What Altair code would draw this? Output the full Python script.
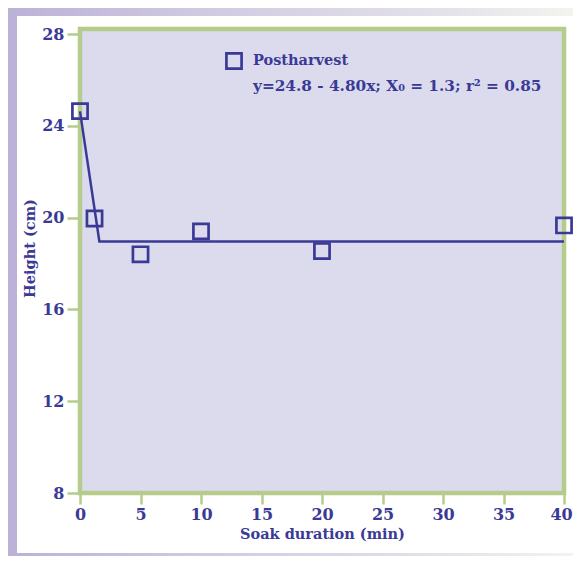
import altair as alt
import pandas as pd

# ---- data ----
soak_min = [0, 1.2, 5, 10, 20, 40]
height_cm = [24.64, 19.96, 18.40, 19.40, 18.54, 19.66]
series = ["Postharvest"] * 6

fit_x = [0, 1.6, 40]
fit_y = [24.63, 18.96, 18.96]

x_ticks = [0, 5, 10, 15, 20, 25, 30, 35, 40]
y_ticks = [8, 12, 16, 20, 24, 28]
equation = ["y=24.8 - 4.80x; X\u2080 = 1.3; r\u00b2 = 0.85"]

NAVY = "#3a3a96"
GREEN = "#b5cc8b"
LAVENDER = "#dcdbee"
FONT = "DejaVu Serif"

pts = pd.DataFrame({"soak": soak_min, "height": height_cm, "series": series})
fit = pd.DataFrame({"soak": fit_x, "height": fit_y})
eq = pd.DataFrame({"label": equation})
one = alt.Data(values=[{"k": 1}])

xenc = alt.X(
    "soak:Q",
    scale=alt.Scale(domain=[0, 40], nice=False),
    axis=alt.Axis(
        values=x_ticks, title="Soak duration (min)", tickSize=11,
        labelPadding=15, labelBaseline="alphabetic", labelFlush=False,
        labelOverlap=False,
        labelOffset={"condition": {"test": "datum.value == 40", "value": -3}, "value": 0},
        titleY=45, titleBaseline="alphabetic", zindex=2,
    ),
)
yenc = alt.Y(
    "height:Q",
    scale=alt.Scale(domain=[8, 28], nice=False),
    axis=alt.Axis(
        values=y_ticks, title="Height (cm)", tickSize=13, labelPadding=3,
        labelFlush=False, labelOverlap=False,
        titleX=-50, titleY=214, titleBaseline="middle", titleAngle=270,
        zindex=2,
    ),
)

frame = alt.Chart(one).mark_rect(
    color=alt.LinearGradient(
        gradient="linear", x1=0, x2=1, y1=0, y2=0,
        stops=[
            alt.GradientStop(color="#bab0d6", offset=0),
            alt.GradientStop(color="#d0cae1", offset=0.35),
            alt.GradientStop(color="#e3e1e9", offset=0.75),
            alt.GradientStop(color="#f4f4ef", offset=1),
        ],
    )
).encode(x=alt.value(-80), x2=alt.value(501), y=alt.value(-34), y2=alt.value(530))

panel = alt.Chart(one).mark_rect(color="white").encode(
    x=alt.value(-63), x2=alt.value(498), y=alt.value(-18), y2=alt.value(519)
)

plotbox = alt.Chart(one).mark_rect(
    fill=LAVENDER, stroke=GREEN, strokeWidth=4.5
).encode(x=alt.value(0), x2=alt.value(484), y=alt.value(-5), y2=alt.value(459))

line = alt.Chart(fit).mark_line(color=NAVY, strokeWidth=2.5).encode(x=xenc, y=yenc)

points = alt.Chart(pts).mark_point(
    shape="square", filled=False, size=230, strokeWidth=2.7, opacity=1
).encode(
    x=xenc, y=yenc,
    color=alt.Color(
        "series:N",
        scale=alt.Scale(domain=["Postharvest"], range=[NAVY]),
        legend=alt.Legend(
            orient="none", legendX=145, legendY=18, title=None, padding=0,
            symbolType="square", symbolFillColor="transparent",
            symbolStrokeWidth=2.7, symbolSize=230, symbolStrokeColor=NAVY,
            labelFont=FONT, labelFontSize=14.5, labelFontWeight="bold",
            labelColor=NAVY, labelOffset=10,
        ),
    ),
)

eqtext = alt.Chart(eq).mark_text(
    align="left", baseline="alphabetic", font=FONT, fontSize=15.3,
    fontWeight="bold", color=NAVY
).encode(text="label:N", x=alt.value(173), y=alt.value(57))

chart = alt.layer(frame, panel, plotbox, line, points, eqtext).properties(
    width=484, height=459,
    padding={"left": 72, "top": 26, "right": 9, "bottom": 63},
    autosize=alt.AutoSizeParams(type="none"),
    background="white",
).configure_view(stroke=None).configure_axis(
    grid=False, domain=False,
    tickColor=GREEN, tickWidth=2.5,
    labelFont=FONT, labelFontSize=16, labelFontWeight="bold", labelColor=NAVY,
    titleFont=FONT, titleFontSize=14.5, titleColor=NAVY, titleFontWeight="bold",
)

chart.save("out.html", embed_options={"renderer": "svg", "actions": False})
